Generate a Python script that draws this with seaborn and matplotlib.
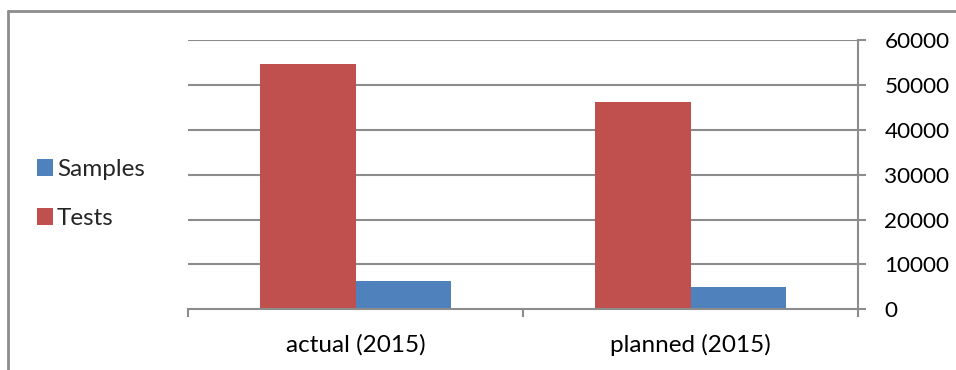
import matplotlib
matplotlib.use("Agg")
import matplotlib.pyplot as plt
from matplotlib.patches import Rectangle
from matplotlib.lines import Line2D
import pandas as pd
import seaborn as sns

# Values
categories = ["actual (2015)", "planned (2015)"]
tests = [54600, 46100]
samples = [6300, 5000]
y_ticks = [0, 10000, 20000, 30000, 40000, 50000, 60000]

series_order = ["Tests", "Samples"]
legend_order = ["Samples", "Tests"]
colors = {"Tests": "#C0504D", "Samples": "#4F81BD"}

df = pd.DataFrame({
    "category": categories * 2,
    "series": ["Tests"] * len(categories) + ["Samples"] * len(categories),
    "value": tests + samples,
})

sns.set_theme(style="white")
plt.rcParams["font.family"] = ["Lato", "DejaVu Sans"]

GRAY = "#8c8c8c"

fig = plt.figure(figsize=(9.56, 3.70), dpi=100)
ax = fig.add_axes([188 / 956, 1 - 309.3 / 370, (858 - 188) / 956, (309.3 - 40) / 370])

sns.barplot(data=df, x="category", y="value", hue="series", hue_order=series_order,
            palette=colors, order=categories, width=0.573, gap=0,
            saturation=1, legend=False, ax=ax, edgecolor="none", linewidth=0)

ax.set_ylim(0, 60000)
ax.set_xlim(-0.5, len(categories) - 0.5)
ax.set_yticks(y_ticks)
ax.set_yticklabels([str(v) for v in y_ticks])
ax.yaxis.tick_right()
ax.set_xlabel("")
ax.set_ylabel("")

# Horizontal gridlines
for v in y_ticks[1:]:
    ax.axhline(v, color=GRAY, lw=1.5, zorder=0)
ax.set_axisbelow(True)

for side in ["top", "left"]:
    ax.spines[side].set_visible(False)
for side in ["bottom", "right"]:
    ax.spines[side].set_visible(True)
    ax.spines[side].set_color(GRAY)
    ax.spines[side].set_linewidth(1.5)

ax.tick_params(axis="y", which="major", direction="out", length=6, width=1.5,
               color=GRAY, pad=13, labelsize=16.2, labelcolor="black", right=True, left=False)

# Category boundary ticks on the x axis
ax.set_xticks([i - 0.5 for i in range(len(categories) + 1)], minor=True)
ax.tick_params(axis="x", which="minor", direction="out", length=6, width=1.5, color=GRAY, bottom=True)
ax.tick_params(axis="x", which="major", length=0, pad=18, labelsize=17.5, labelcolor="black")

# Legend on the left
handles = [Rectangle((0, 0), 1, 1, facecolor=colors[s], edgecolor="none") for s in legend_order]
fig.legend(handles, legend_order, loc="center left", bbox_to_anchor=(15 / 956, 1 - 194 / 370),
           frameon=False, fontsize=17.5, handlelength=0.68, handleheight=0.68,
           handletextpad=0.15, labelspacing=1.15)

# Outer frame (top and left edges)
fig.add_artist(Line2D([7.5 / 956, 1.0], [1 - 11 / 370, 1 - 11 / 370], color=GRAY, lw=2,
                      transform=fig.transFigure))
fig.add_artist(Line2D([7.5 / 956, 7.5 / 956], [0, 1 - 11 / 370], color=GRAY, lw=2,
                      transform=fig.transFigure))

fig.savefig("out.png", dpi=100)
